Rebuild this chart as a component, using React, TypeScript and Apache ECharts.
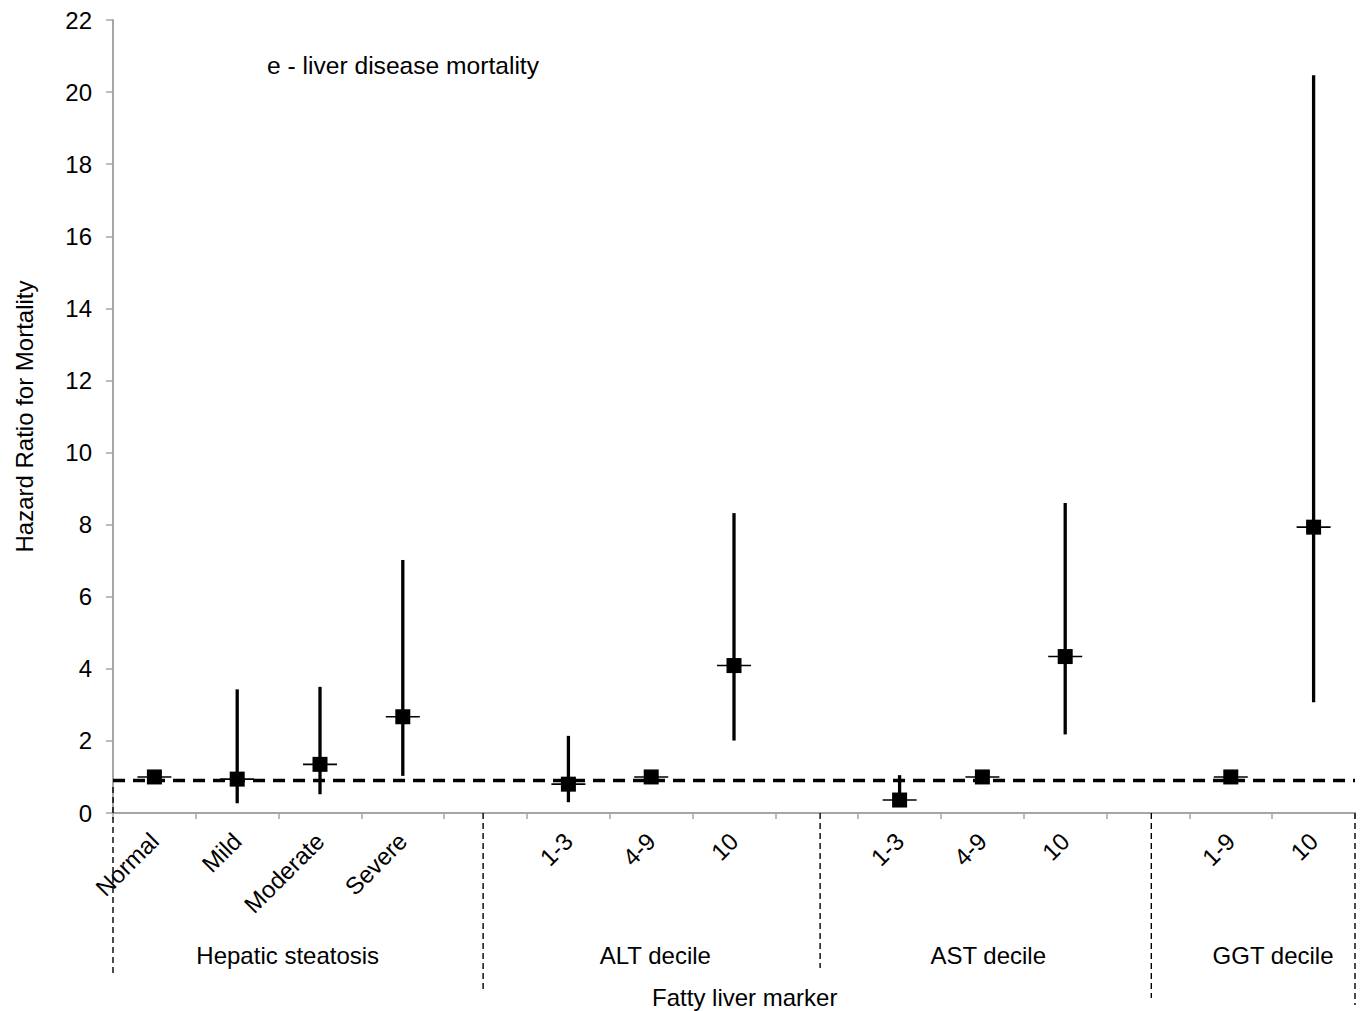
import React, { useEffect, useRef } from "react";
import * as echarts from "echarts";

// ---- Data ----
const categories = [
  "Normal", "Mild", "Moderate", "Severe", "",
  "1-3", "4-9", "10", "",
  "1-3", "4-9", "10", "",
  "1-9", "10",
];
const hazardRatio = [1.0, 0.94, 1.35, 2.67, null, 0.8, 1.0, 4.09, null, 0.36, 1.0, 4.34, null, 1.0, 7.93];
const ciLower = [1.0, 0.27, 0.52, 1.03, null, 0.3, 1.0, 2.01, null, 0.18, 1.0, 2.18, null, 1.0, 3.07];
const ciUpper = [1.0, 3.43, 3.5, 7.02, null, 2.14, 1.0, 8.32, null, 1.05, 1.0, 8.6, null, 1.0, 20.47];
const referenceLevel = 0.92;
const yMin = 0;
const yMax = 22;
const yInterval = 2;

const titleText = "e - liver disease mortality";
const yAxisTitle = "Hazard Ratio for Mortality";
const xAxisTitle = "Fatty liver marker";
const groupNames = ["Hepatic steatosis", "ALT decile", "AST decile", "GGT decile"];
// group label centres, in category-index units
const groupCenters = [1.61, 6.05, 10.07, 13.51];
const xAxisTitleCenter = 7.13;
// divider positions, in category-index units
const dividerIndex = [-0.5, 3.97, 8.04, 12.04, 14.5];

const FONT = "'Liberation Sans', Arial, sans-serif";
const AXIS_GRAY = "#a6a6a6";

export default function App() {
  const ref = useRef<HTMLDivElement>(null);

  useEffect(() => {
    if (!ref.current) return;
    const chart = echarts.init(ref.current, undefined, { renderer: "svg" });

    const errData: any[] = [];
    categories.forEach((_, i) => {
      if (hazardRatio[i] != null) {
        errData.push([i, ciLower[i], ciUpper[i], hazardRatio[i]]);
      }
    });

    chart.setOption({
      animation: false,
      backgroundColor: "#fff",
      textStyle: { fontFamily: FONT },
      title: {
        text: titleText,
        left: 262,
        top: 48,
        textStyle: { fontFamily: FONT, fontSize: 24.6, fontWeight: "normal", color: "#000" },
      },
      grid: { left: 113, right: 6, top: 20, bottom: 198, containLabel: false },
      xAxis: {
        type: "category",
        data: categories,
        boundaryGap: true,
        axisLine: { show: true, lineStyle: { color: AXIS_GRAY, width: 2 } },
        axisTick: { show: true, length: 6, lineStyle: { color: AXIS_GRAY, width: 1.5 }, alignWithLabel: false },
        axisLabel: {
          rotate: 45,
          interval: 0,
          margin: 24,
          fontSize: 24,
          color: "#000",
          fontFamily: FONT,
        },
        splitLine: { show: false },
      },
      yAxis: {
        type: "value",
        min: yMin,
        max: yMax,
        interval: yInterval,
        name: yAxisTitle,
        nameLocation: "middle",
        nameGap: 77,
        nameTextStyle: { fontSize: 24, color: "#000", fontFamily: FONT },
        axisLine: { show: true, lineStyle: { color: AXIS_GRAY, width: 2 } },
        axisTick: { show: true, inside: false, length: 7, lineStyle: { color: AXIS_GRAY, width: 1.5 } },
        axisLabel: { fontSize: 24, color: "#000", margin: 21, fontFamily: FONT },
        splitLine: { show: false },
      },
      series: [
        {
          type: "custom",
          name: "CI",
          data: errData,
          encode: { x: 0, y: [1, 2] },
          z: 2,
          renderItem: (params: any, api: any) => {
            const i = api.value(0);
            const lo = api.coord([i, api.value(1)]);
            const hi = api.coord([i, api.value(2)]);
            const pv = api.coord([i, api.value(3)]);
            return {
              type: "group",
              children: [
                {
                  type: "line",
                  shape: { x1: lo[0], y1: lo[1], x2: hi[0], y2: hi[1] },
                  style: { stroke: "#000", lineWidth: 3.3 },
                },
                {
                  type: "line",
                  shape: { x1: pv[0] - 17, y1: pv[1], x2: pv[0] + 17, y2: pv[1] },
                  style: { stroke: "#000", lineWidth: 1.6 },
                },
              ],
            };
          },
        },
        {
          type: "scatter",
          name: "HR",
          data: hazardRatio.map((v) => (v == null ? "-" : v)),
          symbol: "rect",
          symbolSize: 15,
          itemStyle: { color: "#000", opacity: 1 },
          z: 3,
          markLine: {
            silent: true,
            symbol: ["none", "none"],
            label: { show: false },
            lineStyle: { color: "#000", type: [12, 8], width: 3.3, opacity: 1 },
            data: [{ yAxis: referenceLevel }],
            z: 4,
          },
        },
      ],
    });

    // annotations placed from the axis scale
    const c0 = chart.convertToPixel({ xAxisIndex: 0 }, 0) as number;
    const c1 = chart.convertToPixel({ xAxisIndex: 0 }, 1) as number;
    const step = c1 - c0;
    const xAt = (k: number) => c0 + step * k;
    const axisY = chart.convertToPixel({ yAxisIndex: 0 }, 0) as number;
    const refY = chart.convertToPixel({ yAxisIndex: 0 }, 0.72) as number;
    const dividerDrop = [162, 180, 155, 185, 192];

    const graphics: any[] = [];
    dividerIndex.forEach((k, j) => {
      const x = xAt(k);
      graphics.push({
        type: "line",
        shape: { x1: x, y1: j === 0 ? refY : axisY, x2: x, y2: axisY + dividerDrop[j] },
        style: { stroke: "#000", lineWidth: 1.4, lineDash: [6, 4] },
        z: 10,
      });
    });
    groupNames.forEach((g, j) => {
      graphics.push({
        type: "text",
        x: xAt(groupCenters[j]),
        y: axisY + 142,
        style: {
          text: g,
          fontSize: 24,
          fontFamily: FONT,
          fill: "#000",
          textAlign: "center",
          textVerticalAlign: "middle",
        },
        z: 10,
      });
    });
    graphics.push({
      type: "text",
      x: xAt(xAxisTitleCenter),
      y: axisY + 184,
      style: {
        text: xAxisTitle,
        fontSize: 24,
        fontFamily: FONT,
        fill: "#000",
        textAlign: "center",
        textVerticalAlign: "middle",
      },
      z: 10,
    });
    chart.setOption({ graphic: graphics });

    return () => chart.dispose();
  }, []);

  return (
    <div
      ref={ref}
      style={{ position: "fixed", left: 0, top: 0, width: 1361, height: 1011, background: "#fff" }}
    />
  );
}
